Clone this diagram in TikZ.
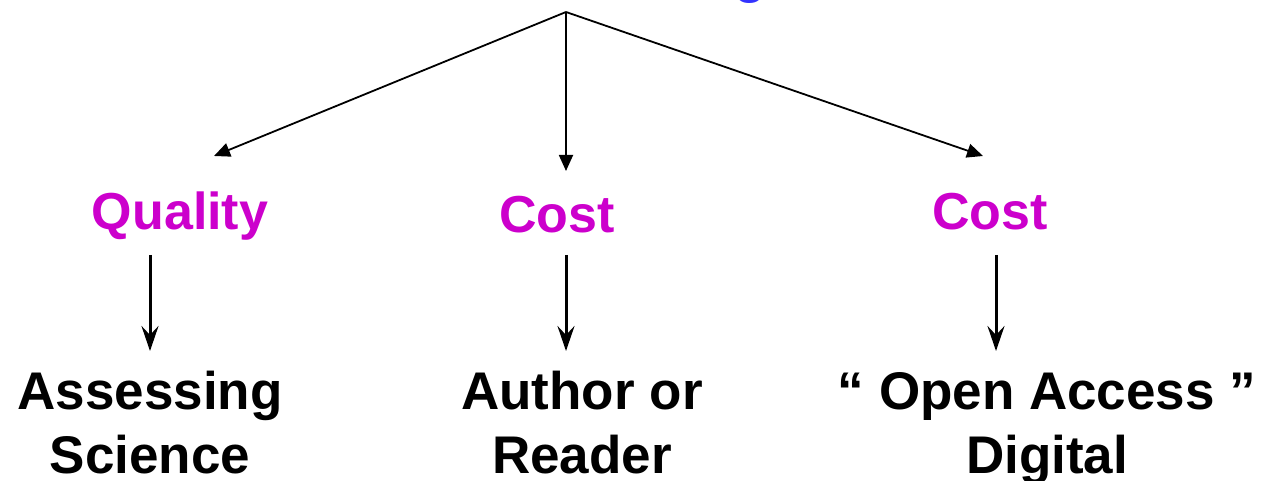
\documentclass[tikz,border=0pt]{standalone}
\usepackage{fontspec}
\setmainfont{Liberation Sans}
\usetikzlibrary{arrows.meta}
\definecolor{lab}{HTML}{CC00CC}
\definecolor{ttl}{HTML}{3333FF}
\newcommand{\twolines}[1]{\begin{tabular}[b]{@{}c@{}}#1\end{tabular}}
\begin{document}
\begin{tikzpicture}[x=1pt,y=-1pt,
  diag/.style={line width=1.8pt,-{Triangle[length=16pt,width=14pt]}},
  vert/.style={line width=3pt,-{Stealth[length=25pt,width=17pt,inset=9pt]}},
  lbl/.style={font=\fontsize{52}{57}\selectfont\bfseries,text=lab,anchor=base,inner sep=0pt},
  txt/.style={font=\fontsize{53}{64}\selectfont\bfseries,anchor=base,inner sep=0pt},
  ]
\useasboundingbox (0,0) rectangle (1262,481);
\clip (0,0) rectangle (1262,481);
\node[anchor=base west,inner sep=0pt,text=ttl,font=\fontsize{52}{57}\selectfont\bfseries] (title) at (734,-7) {g};
\coordinate (apex) at (566,12);
\coordinate (tl) at (214,156);
\coordinate (tm) at (566,171);
\coordinate (tr) at (983,156);
\draw[diag] (apex) -- (tl);
\draw[diag] (apex) -- (tm);
\draw[diag] (apex) -- (tr);
\node[lbl] (q) at (180,230) {Quality};
\node[lbl] (c1) at (557,233) {Cost};
\node[lbl] (c2) at (990,230) {Cost};
\coordinate (q1) at (150,255); \coordinate (q2) at (150,351);
\coordinate (m1) at (566,255); \coordinate (m2) at (566,351);
\coordinate (r1) at (996,255); \coordinate (r2) at (996,351);
\draw[vert] (q1) -- (q2);
\draw[vert] (m1) -- (m2);
\draw[vert] (r1) -- (r2);
\node[txt] (a) at (150,473) {\twolines{Assessing\\Science}};
\node[txt] (b) at (582,473) {\twolines{Author or\\Reader}};
\node[txt] (c) at (1047,473) {\twolines{“ Open Access ”\\Digital}};
\end{tikzpicture}
\end{document}
